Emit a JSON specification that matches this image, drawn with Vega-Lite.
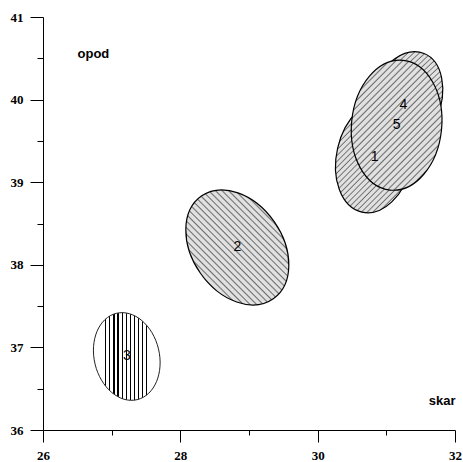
{
  "$schema": "https://vega.github.io/schema/vega-lite/v6.json",
  "width": 412,
  "height": 413,
  "autosize": "none",
  "padding": {"left": 43, "top": 17, "right": 8, "bottom": 32},
  "background": "white",
  "config": {"view": {"stroke": null},
    "axis": {"labelFont": "Liberation Serif", "labelFontWeight": 700, "labelFontSize": 13, "labelColor": "black"}},
  "data": {"values": [
    {"id": "2", "x": 28.83, "y": 38.21},
    {"id": "1", "x": 30.83, "y": 39.31},
    {"id": "4", "x": 31.25, "y": 39.94},
    {"id": "5", "x": 31.15, "y": 39.69},
    {"id": "3", "x": 27.22, "y": 36.89}
  ]},
  "encoding": {
    "x": {"field": "x", "type": "quantitative",
      "scale": {"domain": [26, 32], "nice": false, "zero": false},
      "axis": {"values": [26, 27, 28, 29, 30, 31, 32], "grid": false,
        "labelExpr": "datum.value % 2 === 0 ? format(datum.value, 'd') : ''",
        "domainColor": "black", "tickColor": "black",
        "tickSize": {"condition": {"test": "datum.value % 2 === 1", "value": 5}, "value": 12},
        "labelFont": "Liberation Serif", "labelFontWeight": 700, "labelFontSize": 13, "labelColor": "black",
        "labelPadding": 7, "labelFlush": false, "labelOverlap": false,
        "title": "skar", "titleAngle": 0, "titleX": 412, "titleY": -30, "titleAlign": "right", "titleBaseline": "middle",
        "titleFont": "Liberation Sans", "titleFontWeight": "bold", "titleFontSize": 13, "titleColor": "black"}},
    "y": {"field": "y", "type": "quantitative",
      "scale": {"domain": [36, 41], "nice": false, "zero": false},
      "axis": {"values": [36, 36.5, 37, 37.5, 38, 38.5, 39, 39.5, 40, 40.5, 41], "grid": false,
        "labelExpr": "datum.value % 1 === 0 ? format(datum.value, 'd') : ''",
        "domainColor": "black", "tickColor": "black",
        "tickSize": {"condition": {"test": "datum.value % 1 !== 0", "value": 6}, "value": 13},
        "labelFont": "Liberation Serif", "labelFontWeight": 700, "labelFontSize": 13, "labelColor": "black",
        "labelPadding": 7, "labelFlush": false, "labelOverlap": false,
        "title": "opod", "titleAngle": 0, "titleX": 34, "titleY": 36, "titleAlign": "left", "titleBaseline": "middle",
        "titleFont": "Liberation Sans", "titleFontWeight": "bold", "titleFontSize": 13, "titleColor": "black"}},
    "shape": {"field": "id", "type": "nominal", "legend": null,
      "scale": {"domain": ["1", "2", "3", "4", "5"], "range": [
        "M12.82,-55.54C33.27,-50.82,44.11,-22.13,37.03,8.55C29.95,39.22,7.63,60.26,-12.82,55.54C-33.27,50.82,-44.11,22.13,-37.03,-8.55C-29.95,-39.22,-7.63,-60.26,12.82,-55.54Z",
        "M-35.96,-51.36C-15.61,-65.62,17,-54.18,36.86,-25.81C56.72,2.56,56.32,37.11,35.96,51.36C15.61,65.62,-17,54.18,-36.86,25.81C-56.72,-2.56,-56.32,-37.11,-35.96,-51.36Z",
        "M-10.37,-43.17C7.14,-47.38,25.98,-31.45,31.7,-7.61C37.42,16.23,27.87,38.97,10.37,43.17C-7.14,47.38,-25.98,31.45,-31.7,7.61C-37.42,-16.23,-27.87,-38.97,-10.37,-43.17Z",
        "M20.6,-51C39.04,-43.55,44.76,-14.68,33.38,13.49C22,41.65,-2.17,58.44,-20.6,51C-39.04,43.55,-44.76,14.68,-33.38,-13.49C-22,-41.65,2.17,-58.44,20.6,-51Z",
        "M6.48,-64.88C31.26,-62.4,48.45,-31.35,44.88,4.48C41.3,40.31,18.31,67.35,-6.48,64.88C-31.26,62.4,-48.45,31.35,-44.88,-4.48C-41.3,-40.31,-18.31,-67.35,6.48,-64.88Z"
      ]}}
  },
  "layer": [
    {
      "transform": [{"filter": "datum.id === '3'"}],
      "mark": {"type": "point", "filled": true, "size": 4, "opacity": 1, "fillOpacity": 1,
        "stroke": "#222222", "strokeWidth": 1,
        "fill": {"gradient": "linear", "x1": 0, "y1": 0, "x2": 1, "y2": 0, "stops": [
          {"offset": 0, "color": "white"},
          {"offset": 0.176, "color": "white"}, {"offset": 0.176, "color": "black"}, {"offset": 0.194, "color": "black"}, {"offset": 0.194, "color": "white"},
          {"offset": 0.238, "color": "white"}, {"offset": 0.238, "color": "black"}, {"offset": 0.256, "color": "black"}, {"offset": 0.256, "color": "white"},
          {"offset": 0.299, "color": "white"}, {"offset": 0.299, "color": "black"}, {"offset": 0.317, "color": "black"}, {"offset": 0.317, "color": "white"},
          {"offset": 0.361, "color": "white"}, {"offset": 0.361, "color": "black"}, {"offset": 0.379, "color": "black"}, {"offset": 0.379, "color": "white"},
          {"offset": 0.422, "color": "white"}, {"offset": 0.422, "color": "black"}, {"offset": 0.440, "color": "black"}, {"offset": 0.440, "color": "white"},
          {"offset": 0.484, "color": "white"}, {"offset": 0.484, "color": "black"}, {"offset": 0.502, "color": "black"}, {"offset": 0.502, "color": "white"},
          {"offset": 0.545, "color": "white"}, {"offset": 0.545, "color": "black"}, {"offset": 0.563, "color": "black"}, {"offset": 0.563, "color": "white"},
          {"offset": 0.607, "color": "white"}, {"offset": 0.607, "color": "black"}, {"offset": 0.625, "color": "black"}, {"offset": 0.625, "color": "white"},
          {"offset": 0.668, "color": "white"}, {"offset": 0.668, "color": "black"}, {"offset": 0.686, "color": "black"}, {"offset": 0.686, "color": "white"},
          {"offset": 0.729, "color": "white"}, {"offset": 0.729, "color": "black"}, {"offset": 0.747, "color": "black"}, {"offset": 0.747, "color": "white"},
          {"offset": 0.791, "color": "white"}, {"offset": 0.791, "color": "black"}, {"offset": 0.809, "color": "black"}, {"offset": 0.809, "color": "white"},
          {"offset": 1, "color": "white"}
        ]}}
    },
    {
      "transform": [{"filter": "datum.id === '2'"}],
      "mark": {"type": "point", "filled": true, "size": 4, "opacity": 1, "fillOpacity": 1,
        "stroke": "black", "strokeWidth": 1.2,
        "fill": {"gradient": "linear", "x1": 0, "y1": 1, "x2": 0.9421, "y2": -0.0519, "stops": [
          {"offset": 0, "color": "#e1e1e1"}, {"offset": 0.0167, "color": "#e1e1e1"}, {"offset": 0.0242, "color": "#6e6e6e"},
          {"offset": 0.0303, "color": "#e1e1e1"}, {"offset": 0.0470, "color": "#e1e1e1"}, {"offset": 0.0545, "color": "#6e6e6e"},
          {"offset": 0.0606, "color": "#e1e1e1"}, {"offset": 0.0773, "color": "#e1e1e1"}, {"offset": 0.0848, "color": "#6e6e6e"},
          {"offset": 0.0909, "color": "#e1e1e1"}, {"offset": 0.1076, "color": "#e1e1e1"}, {"offset": 0.1152, "color": "#6e6e6e"},
          {"offset": 0.1212, "color": "#e1e1e1"}, {"offset": 0.1379, "color": "#e1e1e1"}, {"offset": 0.1455, "color": "#6e6e6e"},
          {"offset": 0.1515, "color": "#e1e1e1"}, {"offset": 0.1682, "color": "#e1e1e1"}, {"offset": 0.1758, "color": "#6e6e6e"},
          {"offset": 0.1818, "color": "#e1e1e1"}, {"offset": 0.1985, "color": "#e1e1e1"}, {"offset": 0.2061, "color": "#6e6e6e"},
          {"offset": 0.2121, "color": "#e1e1e1"}, {"offset": 0.2288, "color": "#e1e1e1"}, {"offset": 0.2364, "color": "#6e6e6e"},
          {"offset": 0.2424, "color": "#e1e1e1"}, {"offset": 0.2591, "color": "#e1e1e1"}, {"offset": 0.2667, "color": "#6e6e6e"},
          {"offset": 0.2727, "color": "#e1e1e1"}, {"offset": 0.2894, "color": "#e1e1e1"}, {"offset": 0.2970, "color": "#6e6e6e"},
          {"offset": 0.3030, "color": "#e1e1e1"}, {"offset": 0.3197, "color": "#e1e1e1"}, {"offset": 0.3273, "color": "#6e6e6e"},
          {"offset": 0.3333, "color": "#e1e1e1"}, {"offset": 0.3500, "color": "#e1e1e1"}, {"offset": 0.3576, "color": "#6e6e6e"},
          {"offset": 0.3636, "color": "#e1e1e1"}, {"offset": 0.3803, "color": "#e1e1e1"}, {"offset": 0.3879, "color": "#6e6e6e"},
          {"offset": 0.3939, "color": "#e1e1e1"}, {"offset": 0.4106, "color": "#e1e1e1"}, {"offset": 0.4182, "color": "#6e6e6e"},
          {"offset": 0.4242, "color": "#e1e1e1"}, {"offset": 0.4409, "color": "#e1e1e1"}, {"offset": 0.4485, "color": "#6e6e6e"},
          {"offset": 0.4545, "color": "#e1e1e1"}, {"offset": 0.4712, "color": "#e1e1e1"}, {"offset": 0.4788, "color": "#6e6e6e"},
          {"offset": 0.4848, "color": "#e1e1e1"}, {"offset": 0.5015, "color": "#e1e1e1"}, {"offset": 0.5091, "color": "#6e6e6e"},
          {"offset": 0.5152, "color": "#e1e1e1"}, {"offset": 0.5318, "color": "#e1e1e1"}, {"offset": 0.5394, "color": "#6e6e6e"},
          {"offset": 0.5455, "color": "#e1e1e1"}, {"offset": 0.5621, "color": "#e1e1e1"}, {"offset": 0.5697, "color": "#6e6e6e"},
          {"offset": 0.5758, "color": "#e1e1e1"}, {"offset": 0.5924, "color": "#e1e1e1"}, {"offset": 0.6000, "color": "#6e6e6e"},
          {"offset": 0.6061, "color": "#e1e1e1"}, {"offset": 0.6227, "color": "#e1e1e1"}, {"offset": 0.6303, "color": "#6e6e6e"},
          {"offset": 0.6364, "color": "#e1e1e1"}, {"offset": 0.6530, "color": "#e1e1e1"}, {"offset": 0.6606, "color": "#6e6e6e"},
          {"offset": 0.6667, "color": "#e1e1e1"}, {"offset": 0.6833, "color": "#e1e1e1"}, {"offset": 0.6909, "color": "#6e6e6e"},
          {"offset": 0.6970, "color": "#e1e1e1"}, {"offset": 0.7136, "color": "#e1e1e1"}, {"offset": 0.7212, "color": "#6e6e6e"},
          {"offset": 0.7273, "color": "#e1e1e1"}, {"offset": 0.7439, "color": "#e1e1e1"}, {"offset": 0.7515, "color": "#6e6e6e"},
          {"offset": 0.7576, "color": "#e1e1e1"}, {"offset": 0.7742, "color": "#e1e1e1"}, {"offset": 0.7818, "color": "#6e6e6e"},
          {"offset": 0.7879, "color": "#e1e1e1"}, {"offset": 0.8045, "color": "#e1e1e1"}, {"offset": 0.8121, "color": "#6e6e6e"},
          {"offset": 0.8182, "color": "#e1e1e1"}, {"offset": 0.8348, "color": "#e1e1e1"}, {"offset": 0.8424, "color": "#6e6e6e"},
          {"offset": 0.8485, "color": "#e1e1e1"}, {"offset": 0.8652, "color": "#e1e1e1"}, {"offset": 0.8727, "color": "#6e6e6e"},
          {"offset": 0.8788, "color": "#e1e1e1"}, {"offset": 0.8955, "color": "#e1e1e1"}, {"offset": 0.9030, "color": "#6e6e6e"},
          {"offset": 0.9091, "color": "#e1e1e1"}, {"offset": 0.9258, "color": "#e1e1e1"}, {"offset": 0.9333, "color": "#6e6e6e"},
          {"offset": 0.9394, "color": "#e1e1e1"}, {"offset": 0.9561, "color": "#e1e1e1"}, {"offset": 0.9636, "color": "#6e6e6e"},
          {"offset": 0.9697, "color": "#e1e1e1"}, {"offset": 0.9864, "color": "#e1e1e1"}, {"offset": 0.9939, "color": "#6e6e6e"},
          {"offset": 1, "color": "#e1e1e1"}
        ]}}
    },
    {
      "transform": [{"filter": "datum.id === '1' || datum.id === '4' || datum.id === '5'"}],
      "mark": {"type": "point", "filled": true, "size": 4, "opacity": 1, "fillOpacity": 1,
        "stroke": "black", "strokeWidth": 1.2,
        "fill": {"gradient": "linear", "x1": 0, "y1": 0, "x2": 0.80, "y2": 1.14, "stops": [
          {"offset": 0, "color": "#e1e1e1"}, {"offset": 0.0167, "color": "#e1e1e1"}, {"offset": 0.0242, "color": "#6e6e6e"},
          {"offset": 0.0303, "color": "#e1e1e1"}, {"offset": 0.0470, "color": "#e1e1e1"}, {"offset": 0.0545, "color": "#6e6e6e"},
          {"offset": 0.0606, "color": "#e1e1e1"}, {"offset": 0.0773, "color": "#e1e1e1"}, {"offset": 0.0848, "color": "#6e6e6e"},
          {"offset": 0.0909, "color": "#e1e1e1"}, {"offset": 0.1076, "color": "#e1e1e1"}, {"offset": 0.1152, "color": "#6e6e6e"},
          {"offset": 0.1212, "color": "#e1e1e1"}, {"offset": 0.1379, "color": "#e1e1e1"}, {"offset": 0.1455, "color": "#6e6e6e"},
          {"offset": 0.1515, "color": "#e1e1e1"}, {"offset": 0.1682, "color": "#e1e1e1"}, {"offset": 0.1758, "color": "#6e6e6e"},
          {"offset": 0.1818, "color": "#e1e1e1"}, {"offset": 0.1985, "color": "#e1e1e1"}, {"offset": 0.2061, "color": "#6e6e6e"},
          {"offset": 0.2121, "color": "#e1e1e1"}, {"offset": 0.2288, "color": "#e1e1e1"}, {"offset": 0.2364, "color": "#6e6e6e"},
          {"offset": 0.2424, "color": "#e1e1e1"}, {"offset": 0.2591, "color": "#e1e1e1"}, {"offset": 0.2667, "color": "#6e6e6e"},
          {"offset": 0.2727, "color": "#e1e1e1"}, {"offset": 0.2894, "color": "#e1e1e1"}, {"offset": 0.2970, "color": "#6e6e6e"},
          {"offset": 0.3030, "color": "#e1e1e1"}, {"offset": 0.3197, "color": "#e1e1e1"}, {"offset": 0.3273, "color": "#6e6e6e"},
          {"offset": 0.3333, "color": "#e1e1e1"}, {"offset": 0.3500, "color": "#e1e1e1"}, {"offset": 0.3576, "color": "#6e6e6e"},
          {"offset": 0.3636, "color": "#e1e1e1"}, {"offset": 0.3803, "color": "#e1e1e1"}, {"offset": 0.3879, "color": "#6e6e6e"},
          {"offset": 0.3939, "color": "#e1e1e1"}, {"offset": 0.4106, "color": "#e1e1e1"}, {"offset": 0.4182, "color": "#6e6e6e"},
          {"offset": 0.4242, "color": "#e1e1e1"}, {"offset": 0.4409, "color": "#e1e1e1"}, {"offset": 0.4485, "color": "#6e6e6e"},
          {"offset": 0.4545, "color": "#e1e1e1"}, {"offset": 0.4712, "color": "#e1e1e1"}, {"offset": 0.4788, "color": "#6e6e6e"},
          {"offset": 0.4848, "color": "#e1e1e1"}, {"offset": 0.5015, "color": "#e1e1e1"}, {"offset": 0.5091, "color": "#6e6e6e"},
          {"offset": 0.5152, "color": "#e1e1e1"}, {"offset": 0.5318, "color": "#e1e1e1"}, {"offset": 0.5394, "color": "#6e6e6e"},
          {"offset": 0.5455, "color": "#e1e1e1"}, {"offset": 0.5621, "color": "#e1e1e1"}, {"offset": 0.5697, "color": "#6e6e6e"},
          {"offset": 0.5758, "color": "#e1e1e1"}, {"offset": 0.5924, "color": "#e1e1e1"}, {"offset": 0.6000, "color": "#6e6e6e"},
          {"offset": 0.6061, "color": "#e1e1e1"}, {"offset": 0.6227, "color": "#e1e1e1"}, {"offset": 0.6303, "color": "#6e6e6e"},
          {"offset": 0.6364, "color": "#e1e1e1"}, {"offset": 0.6530, "color": "#e1e1e1"}, {"offset": 0.6606, "color": "#6e6e6e"},
          {"offset": 0.6667, "color": "#e1e1e1"}, {"offset": 0.6833, "color": "#e1e1e1"}, {"offset": 0.6909, "color": "#6e6e6e"},
          {"offset": 0.6970, "color": "#e1e1e1"}, {"offset": 0.7136, "color": "#e1e1e1"}, {"offset": 0.7212, "color": "#6e6e6e"},
          {"offset": 0.7273, "color": "#e1e1e1"}, {"offset": 0.7439, "color": "#e1e1e1"}, {"offset": 0.7515, "color": "#6e6e6e"},
          {"offset": 0.7576, "color": "#e1e1e1"}, {"offset": 0.7742, "color": "#e1e1e1"}, {"offset": 0.7818, "color": "#6e6e6e"},
          {"offset": 0.7879, "color": "#e1e1e1"}, {"offset": 0.8045, "color": "#e1e1e1"}, {"offset": 0.8121, "color": "#6e6e6e"},
          {"offset": 0.8182, "color": "#e1e1e1"}, {"offset": 0.8348, "color": "#e1e1e1"}, {"offset": 0.8424, "color": "#6e6e6e"},
          {"offset": 0.8485, "color": "#e1e1e1"}, {"offset": 0.8652, "color": "#e1e1e1"}, {"offset": 0.8727, "color": "#6e6e6e"},
          {"offset": 0.8788, "color": "#e1e1e1"}, {"offset": 0.8955, "color": "#e1e1e1"}, {"offset": 0.9030, "color": "#6e6e6e"},
          {"offset": 0.9091, "color": "#e1e1e1"}, {"offset": 0.9258, "color": "#e1e1e1"}, {"offset": 0.9333, "color": "#6e6e6e"},
          {"offset": 0.9394, "color": "#e1e1e1"}, {"offset": 0.9561, "color": "#e1e1e1"}, {"offset": 0.9636, "color": "#6e6e6e"},
          {"offset": 0.9697, "color": "#e1e1e1"}, {"offset": 0.9864, "color": "#e1e1e1"}, {"offset": 0.9939, "color": "#6e6e6e"},
          {"offset": 1, "color": "#e1e1e1"}
        ]}}
    },
    {
      "mark": {"type": "text", "font": "Liberation Sans", "fontSize": 14, "color": "black", "align": "center", "baseline": "middle"},
      "encoding": {"text": {"field": "id", "type": "nominal"}, "shape": null}
    }
  ]
}
